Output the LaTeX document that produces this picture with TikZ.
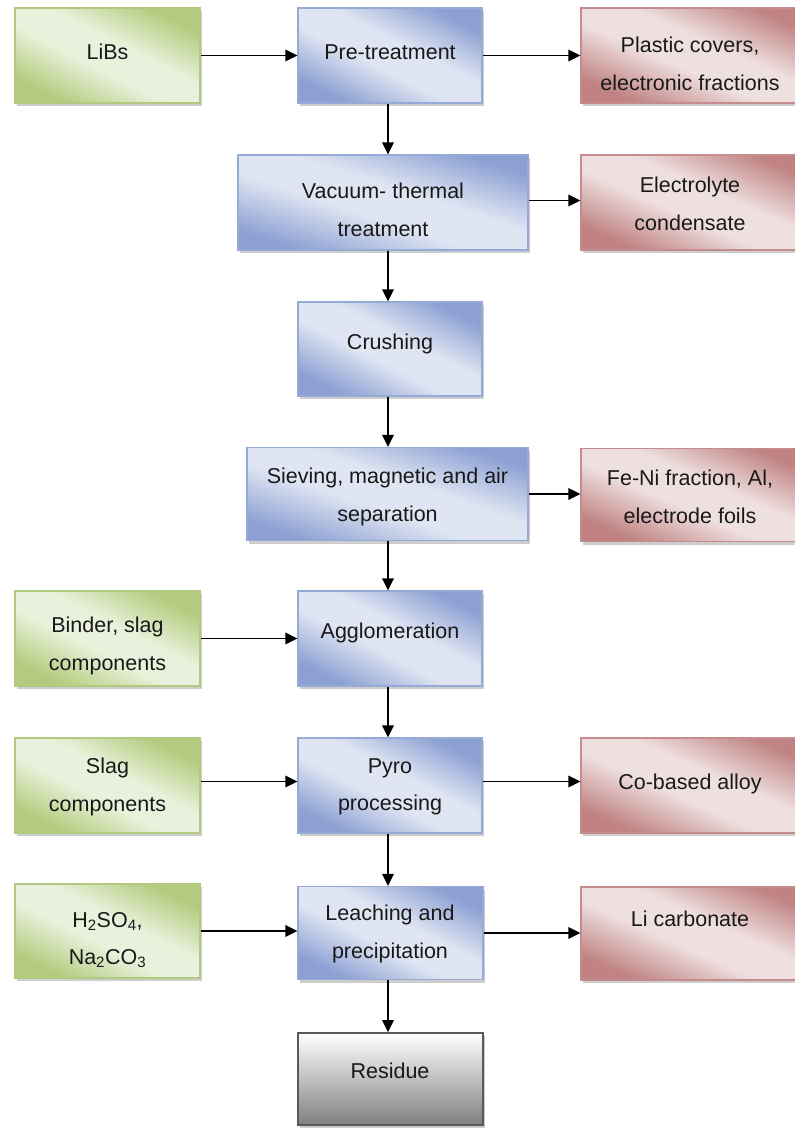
\documentclass[tikz,border=0pt]{standalone}
\usepackage{fontspec}
\setmainfont{Liberation Sans}
\usetikzlibrary{arrows.meta,shadows,calc}
\definecolor{bdark}{RGB}{140,160,211}
\definecolor{blight}{RGB}{223,229,242}
\definecolor{bline}{RGB}{150,170,214}
\definecolor{gdark}{RGB}{178,203,124}
\definecolor{glight}{RGB}{233,241,220}
\definecolor{gline}{RGB}{178,202,128}
\definecolor{rdark}{RGB}{192,130,130}
\definecolor{rlight}{RGB}{239,224,224}
\definecolor{rline}{RGB}{196,140,140}
\definecolor{txtc}{RGB}{25,25,25}
\pgfdeclarehorizontalshading{bsh}{100bp}{color(0bp)=(bdark); color(25bp)=(bdark); color(44bp)=(blight); color(56bp)=(blight); color(75bp)=(bdark); color(100bp)=(bdark)}
\pgfdeclarehorizontalshading{gsh}{100bp}{color(0bp)=(gdark); color(25bp)=(gdark); color(44bp)=(glight); color(56bp)=(glight); color(75bp)=(gdark); color(100bp)=(gdark)}
\pgfdeclarehorizontalshading{rsh}{100bp}{color(0bp)=(rdark); color(25bp)=(rdark); color(44bp)=(rlight); color(56bp)=(rlight); color(75bp)=(rdark); color(100bp)=(rdark)}
\begin{document}
\begin{tikzpicture}[x=1pt,y=-1pt,
  box/.style={rectangle, inner sep=0pt, line width=1.2pt,
    drop shadow={shadow xshift=2pt,shadow yshift=-3pt,opacity=0.28,fill=black!70}},
  bluebox/.style={box, draw=bline, shading=bsh, shading angle=#1},
  bluebox/.default=63,
  greenbox/.style={box, draw=gline, shading=gsh, shading angle=#1},
  greenbox/.default=63,
  redbox/.style={box, draw=rline, shading=rsh, shading angle=#1},
  redbox/.default=66,
  graybox/.style={box, draw=black!65, line width=1.6pt, top color=white, bottom color=black!50},
  txt/.style={font=\fontsize{21.5}{37.5}\selectfont, align=center, text=txtc, inner sep=0pt},
  one/.style={txt, text height=15.5pt, text depth=4.5pt},
  arr/.style={-{Triangle[length=12pt,width=11.5pt]}, line width=1.4pt, black}
]
\useasboundingbox (0,0) rectangle (795,1128);

% boxes
\node[greenbox, minimum width=185pt, minimum height=95pt] (libs) at (107.5,55.5) {};
\node[bluebox,  minimum width=184pt, minimum height=95pt] (pre) at (390,55.5) {};
\node[redbox,   minimum width=230pt, minimum height=95pt] (plastic) at (696,55.5) {};

\node[bluebox=72, minimum width=290pt, minimum height=95pt] (vac) at (383,202.5) {};
\node[redbox,   minimum width=230pt, minimum height=95pt] (elec) at (696,202.5) {};

\node[bluebox,  minimum width=184pt, minimum height=94pt] (crush) at (390,349) {};

\node[bluebox=71, minimum width=281pt, minimum height=93pt] (siev) at (387.5,494) {};
\node[redbox,   minimum width=230pt, minimum height=93pt] (fe) at (696,495) {};

\node[greenbox, minimum width=185pt, minimum height=95pt] (binder) at (107.5,638.5) {};
\node[bluebox,  minimum width=184pt, minimum height=95pt] (agg) at (390,638.5) {};

\node[greenbox, minimum width=185pt, minimum height=95pt] (slag) at (107.5,785.5) {};
\node[bluebox,  minimum width=184pt, minimum height=95pt] (pyro) at (390,785.5) {};
\node[redbox,   minimum width=230pt, minimum height=95pt] (co) at (696,785.5) {};

\node[greenbox, minimum width=185pt, minimum height=94pt] (acid) at (107.5,931) {};
\node[bluebox,  minimum width=185pt, minimum height=93pt] (leach) at (390.5,933) {};
\node[redbox,   minimum width=230pt, minimum height=93pt] (li) at (696,933.5) {};

\node[graybox,  minimum width=185pt, minimum height=92pt] (res) at (390.5,1079) {};

% texts
\node[one] (libs-t) at (107.5,54) {LiBs};
\node[one] (pre-t) at (390,54) {Pre-treatment};
\node[txt] (plastic-t) at (690,64) {Plastic covers,\\electronic fractions};
\node[txt] (vac-t) at (383,210) {Vacuum- thermal\\treatment};
\node[txt] (elec-t) at (690,204) {Electrolyte\\condensate};
\node[one] (crush-t) at (390,344) {Crushing};
\node[txt] (siev-t) at (387.5,497) {Sieving, magnetic and air\\separation};
\node[txt] (fe-t) at (690,497) {Fe-Ni fraction, Al,\\electrode foils};
\node[txt] (binder-t) at (107.5,646) {Binder, slag\\components};
\node[one] (agg-t) at (390,633) {Agglomeration};
\node[txt] (slag-t) at (107.5,787) {Slag\\components};
\node[txt] (pyro-t) at (390,787) {Pyro\\processing};
\node[one] (co-t) at (690,784) {Co-based alloy};
\node[txt] (acid-t) at (107.5,940) {H\textsubscript{2}SO\textsubscript{4},\\Na\textsubscript{2}CO\textsubscript{3}};
\node[txt] (leach-t) at (390,934) {Leaching and\\precipitation};
\node[one] (li-t) at (690,921) {Li carbonate};
\node[one] (res-t) at (390,1073) {Residue};

% horizontal connectors
\draw[arr] (libs.east) -- (pre.west);
\draw[arr] (pre.east) -- (plastic.west);
\draw[arr] ([yshift=2pt]vac.east) -- ([yshift=2pt]vac.east -| elec.west);
\draw[arr] (siev.east) -- (siev.east -| fe.west);
\draw[arr] (binder.east) -- (agg.west);
\draw[arr] ([yshift=4pt]slag.east) -- ([yshift=4pt]slag.east -| pyro.west);
\draw[arr] ([yshift=4pt]pyro.east) -- ([yshift=4pt]pyro.east -| co.west);
\draw[arr] (acid.east) -- (acid.east -| leach.west);
\draw[arr] (leach.east) -- (leach.east -| li.west);

% vertical connectors
\draw[arr] ([xshift=-2pt]pre.south) -- ([xshift=-2pt]pre.south |- vac.north);
\draw[arr] ([xshift=-2pt]crush.north |- vac.south) -- ([xshift=-2pt]crush.north);
\draw[arr] ([xshift=-2pt]crush.south) -- ([xshift=-2pt]crush.south |- siev.north);
\draw[arr] ([xshift=-2pt]agg.north |- siev.south) -- ([xshift=-2pt]agg.north);
\draw[arr] ([xshift=-2pt]agg.south) -- ([xshift=-2pt]agg.south |- pyro.north);
\draw[arr] ([xshift=-2pt]pyro.south) -- ([xshift=-2pt]pyro.south |- leach.north);
\draw[arr] ([xshift=-2.5pt]leach.south) -- ([xshift=-2.5pt]leach.south |- res.north);
\end{tikzpicture}
\end{document}
